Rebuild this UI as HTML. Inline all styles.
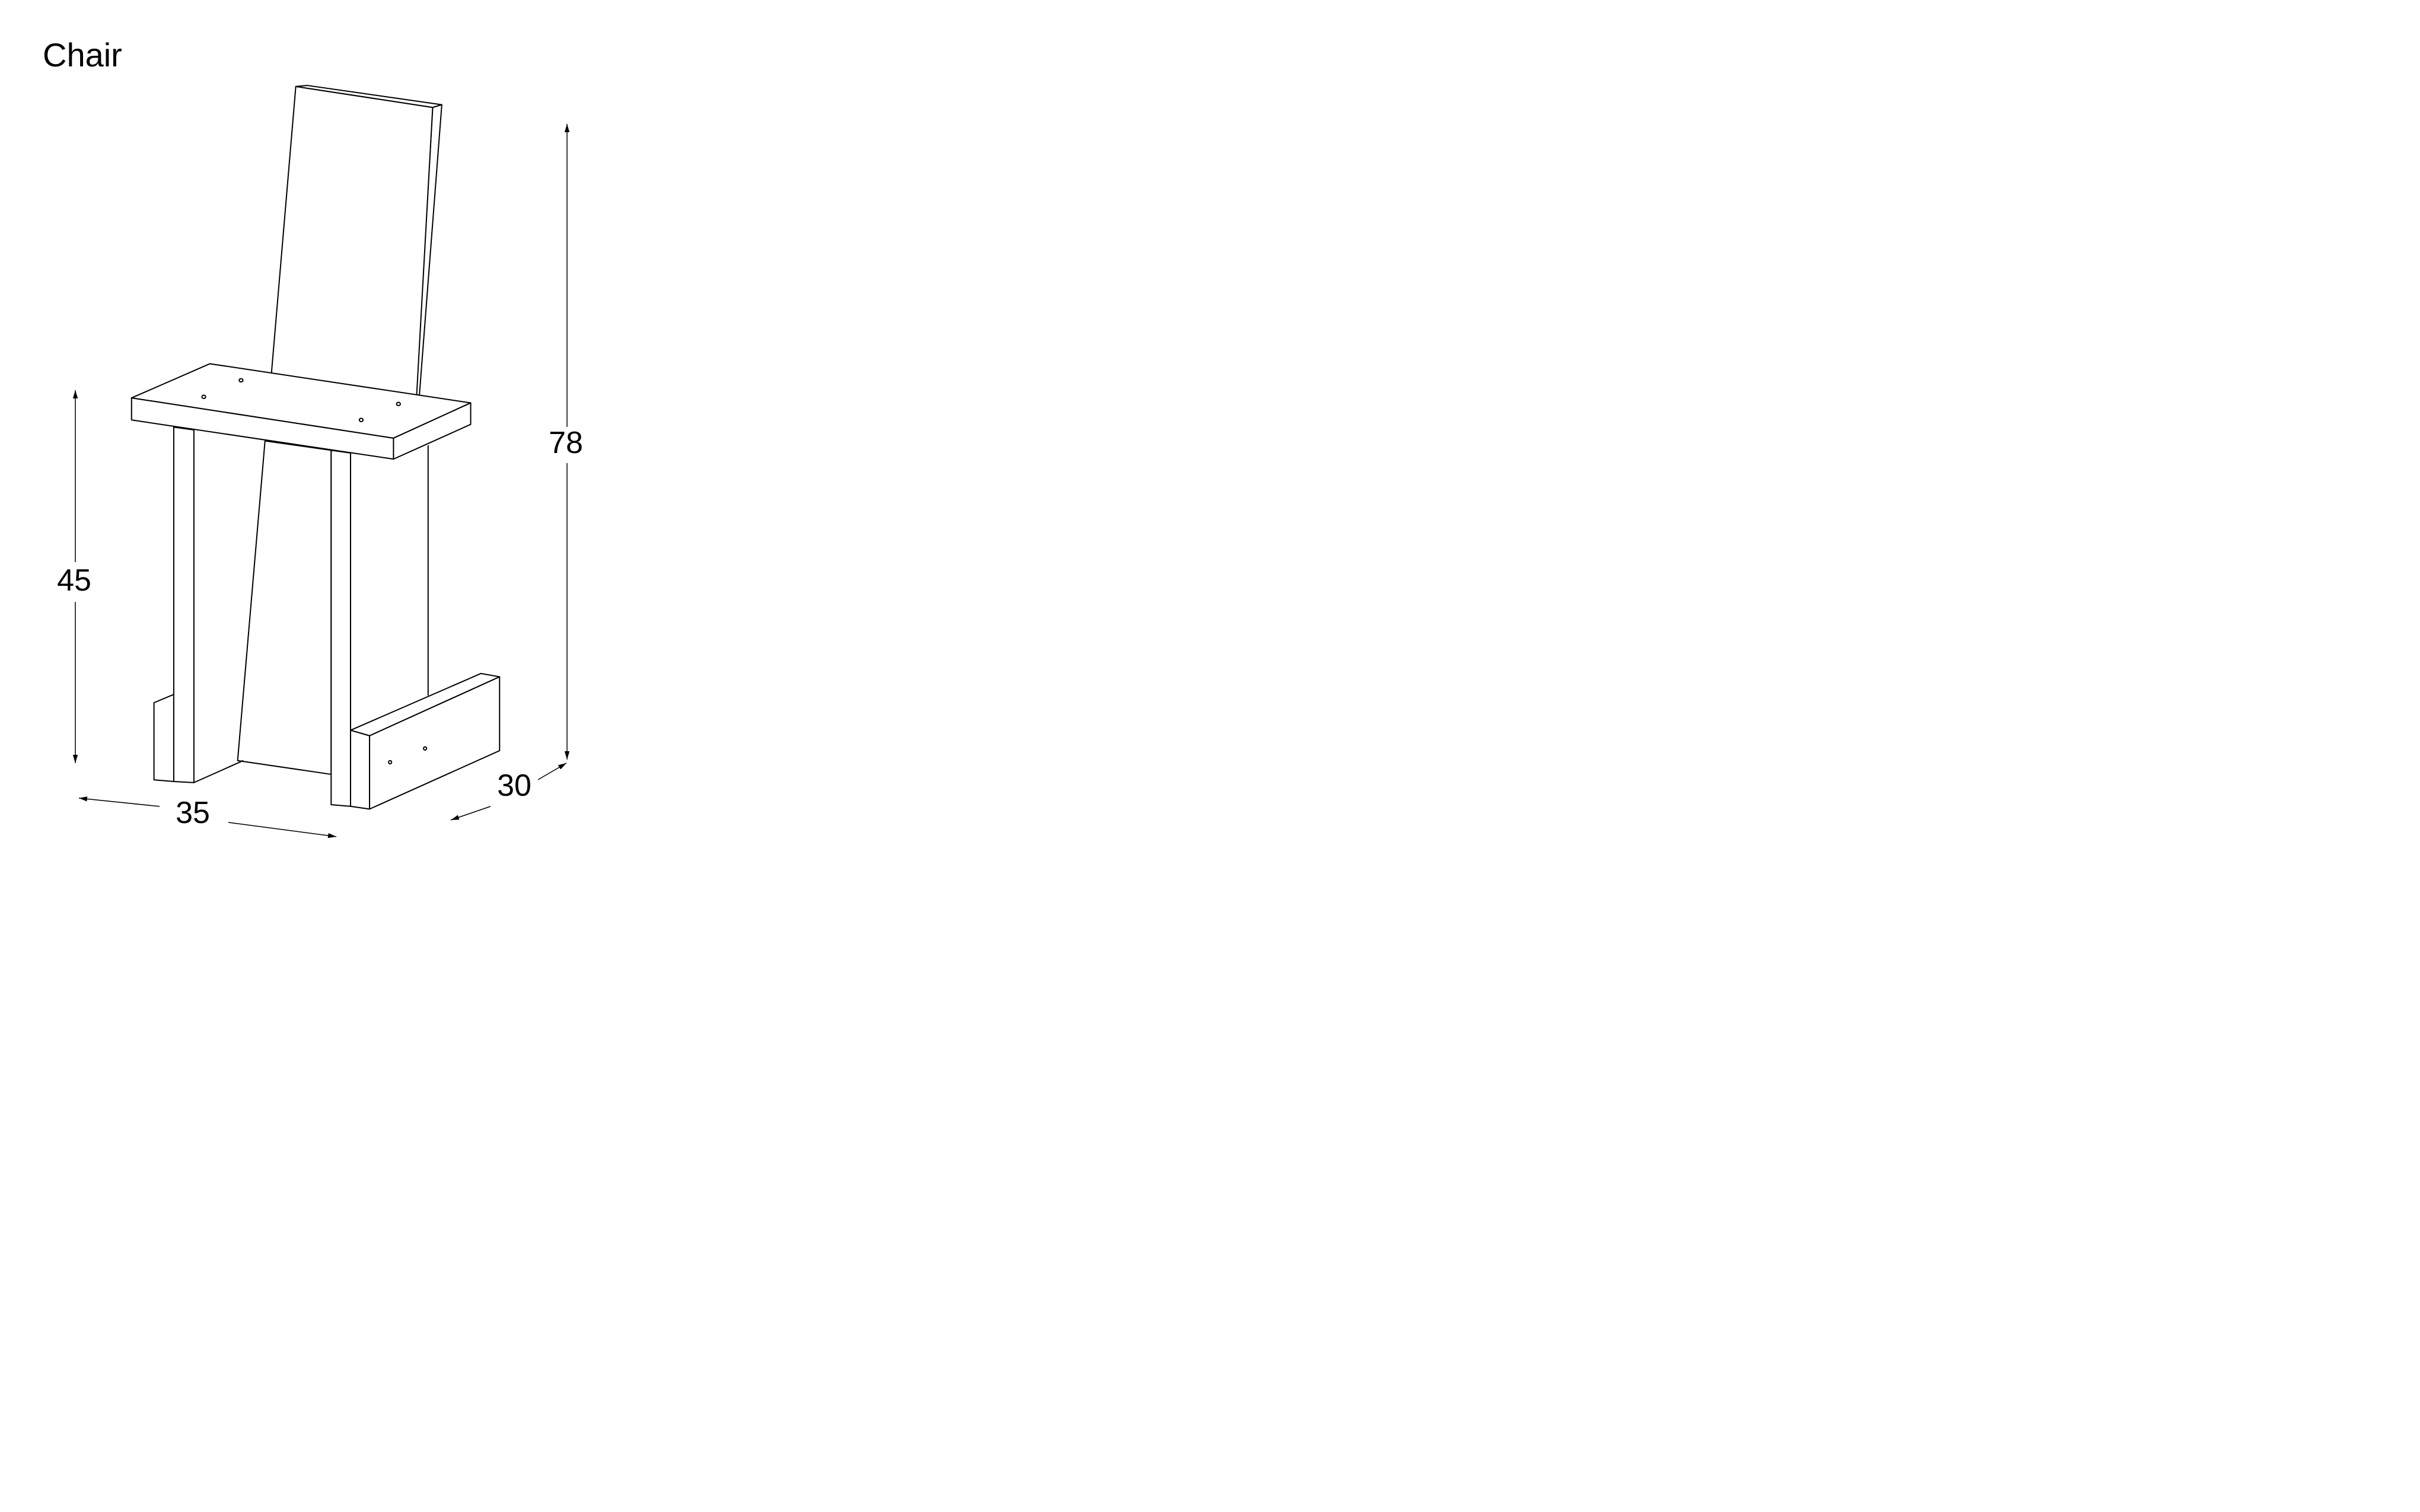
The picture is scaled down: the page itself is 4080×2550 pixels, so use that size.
<!DOCTYPE html>
<html><head><meta charset="utf-8"><style>
html,body{margin:0;padding:0;background:#fff;}
svg{display:block;}
</style></head><body>
<svg width="4080" height="2550" viewBox="0 0 4080 2550" xmlns="http://www.w3.org/2000/svg">
<rect width="4080" height="2550" fill="#fff"/>
<defs>
<marker id="a" viewBox="0 0 10 10" refX="10" refY="5" markerWidth="14" markerHeight="14" markerUnits="userSpaceOnUse" orient="auto-start-reverse"><path d="M0,2 L10,5 L0,8 z" fill="#000"/></marker>
</defs>
<g transform="scale(0.641,0.9295)" fill="#fff" stroke="#000" stroke-width="2" stroke-linejoin="round">
<!-- backrest -->
<polygon vector-effect="non-scaling-stroke" points="778,157 808,155 1162,190 1138,195"/>
<polygon vector-effect="non-scaling-stroke" points="1138,195 1162,190 1096,780 1090,780"/>
<polygon vector-effect="non-scaling-stroke" points="778,157 1138,195 1090,790 705,750"/>
<!-- backrest below seat -->
<polygon vector-effect="non-scaling-stroke" points="697,800 871,817 871,1405 625,1380"/>
<line vector-effect="non-scaling-stroke" x1="1126" y1="808" x2="1126" y2="1262"/>
<!-- left foot -->
<polygon vector-effect="non-scaling-stroke" points="405,1275 457,1260 457,1418 405,1415"/>
<!-- left leg -->
<polygon vector-effect="non-scaling-stroke" points="457,775 510,780 510,1420 457,1418"/>
<line vector-effect="non-scaling-stroke" x1="510" y1="1420" x2="640" y2="1380"/>
<!-- right leg -->
<polygon vector-effect="non-scaling-stroke" points="871,817 922,822 922,1463 871,1460"/>
<!-- right foot -->
<polygon vector-effect="non-scaling-stroke" points="922,1325 1265,1222 1314,1228 972,1335"/>
<polygon vector-effect="non-scaling-stroke" points="922,1325 972,1335 972,1468 922,1463"/>
<polygon vector-effect="non-scaling-stroke" points="972,1335 1314,1228 1314,1362 972,1468"/>
<ellipse vector-effect="non-scaling-stroke" cx="1026" cy="1383" rx="4" ry="3"/>
<ellipse vector-effect="non-scaling-stroke" cx="1118" cy="1358" rx="4" ry="3"/>
<!-- seat -->
<polygon vector-effect="non-scaling-stroke" points="346,722 552,660 1238,731 1035,795"/>
<polygon vector-effect="non-scaling-stroke" points="346,722 1035,795 1035,833 346,762"/>
<polygon vector-effect="non-scaling-stroke" points="1035,795 1238,731 1238,770 1035,833"/>
<ellipse vector-effect="non-scaling-stroke" cx="634" cy="690" rx="5" ry="3"/>
<ellipse vector-effect="non-scaling-stroke" cx="536" cy="720" rx="5" ry="3"/>
<ellipse vector-effect="non-scaling-stroke" cx="1048" cy="733" rx="5" ry="3"/>
<ellipse vector-effect="non-scaling-stroke" cx="950" cy="762" rx="5" ry="3"/>
</g>
<g stroke="#000" stroke-width="1.5" fill="none">
<line x1="127" y1="658" x2="127" y2="948" marker-start="url(#a)"/>
<line x1="127" y1="1015" x2="127" y2="1287" marker-end="url(#a)"/>
<line x1="956" y1="209" x2="956" y2="720" marker-start="url(#a)"/>
<line x1="956" y1="781" x2="956" y2="1281" marker-end="url(#a)"/>
<line x1="133" y1="1346" x2="269" y2="1360" marker-start="url(#a)"/>
<line x1="385" y1="1387" x2="567" y2="1411" marker-end="url(#a)"/>
<line x1="760" y1="1383" x2="827" y2="1360" marker-start="url(#a)"/>
<line x1="907" y1="1315" x2="955" y2="1287" marker-end="url(#a)"/>
</g>
<g font-family="Liberation Sans, sans-serif" fill="#000">
<text x="72" y="112" font-size="56">Chair</text>
<text x="125" y="996" font-size="52" text-anchor="middle">45</text>
<text x="954" y="764" font-size="52" text-anchor="middle">78</text>
<text x="325" y="1388" font-size="52" text-anchor="middle">35</text>
<text x="867" y="1342" font-size="52" text-anchor="middle">30</text>
</g>
</svg>
</body></html>
